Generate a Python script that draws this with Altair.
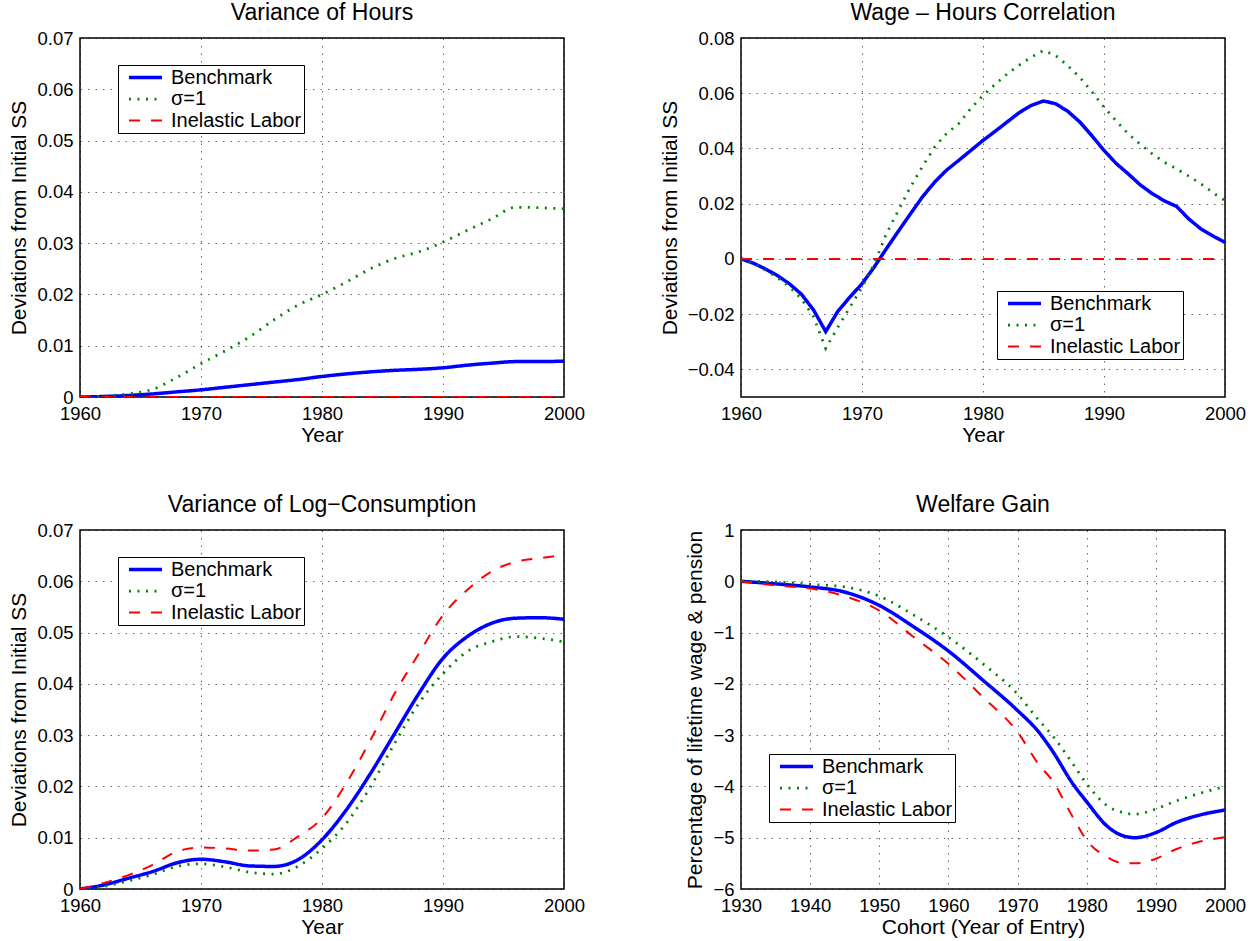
import altair as alt
import pandas as pd

SERIES = ["Benchmark", "σ=1", "Inelastic Labor"]
COLORS = ["#0000ff", "#008000", "#ff0000"]
DASHES = [[1, 0], [2, 6.5], [11, 11]]
WIDTHS = [3.5, 2, 3.5]
FONT = "Liberation Sans"

# ---- Panel 1: Variance of Hours ----
hours_years = [1960, 1962, 1964, 1966, 1968, 1970, 1972, 1974, 1976, 1978, 1980,
               1982, 1984, 1986, 1988, 1990, 1992, 1994, 1996, 1998, 2000]
hours_bench = [0.0, 0.0001, 0.0003, 0.0006, 0.001, 0.0014, 0.0019, 0.0024, 0.0029, 0.0034, 0.004,
               0.0045, 0.0049, 0.0052, 0.0054, 0.0057, 0.0062, 0.0066, 0.0069, 0.0069, 0.007]
hours_sigma = [0.0, 0.0002, 0.0006, 0.0015, 0.0038, 0.0065, 0.009, 0.0117, 0.015, 0.0179, 0.020,
               0.0224, 0.025, 0.027, 0.0283, 0.0302, 0.0325, 0.0347, 0.037, 0.0369, 0.0367]
hours_inel_years = [1960, 2000]
hours_inel = [0.0, 0.0]

# ---- Panel 2: Wage - Hours Correlation ----
corr_years = list(range(1960, 2001))
corr_bench = [0.0, -0.0015, -0.0036, -0.006, -0.009, -0.0128, -0.0185, -0.0263, -0.019, -0.0138,
              -0.009, -0.003, 0.0036, 0.010, 0.0163, 0.0225, 0.0278, 0.0322, 0.0357, 0.0393,
              0.0429, 0.0462, 0.0496, 0.053, 0.0556, 0.0572, 0.0562, 0.0535, 0.0496, 0.0446,
              0.0393, 0.0346, 0.0308, 0.0268, 0.0236, 0.021, 0.019, 0.0145, 0.0109, 0.0083, 0.006]
corr_sigma = [0.0, -0.0015, -0.004, -0.0068, -0.010, -0.0145, -0.021, -0.0324, -0.0248, -0.0175,
              -0.0103, -0.002, 0.009, 0.0175, 0.026, 0.0335, 0.0405, 0.0455, 0.049, 0.0545,
              0.0592, 0.0632, 0.067, 0.0702, 0.0731, 0.0755, 0.0737, 0.070, 0.0658, 0.0605,
              0.055, 0.050, 0.0453, 0.0415, 0.038, 0.035, 0.0326, 0.030, 0.0272, 0.024, 0.0211]
corr_inel_years = [1960, 2000]
corr_inel = [0.0, 0.0]

# ---- Panel 3: Variance of Log-Consumption ----
cons_years = [1960, 1962, 1964, 1966, 1968, 1970, 1972, 1974, 1976, 1978, 1980,
              1982, 1984, 1986, 1988, 1990, 1992, 1994, 1996, 1998, 2000]
cons_bench = [0.0, 0.0008, 0.0021, 0.0034, 0.0051, 0.0058, 0.0053, 0.0045, 0.0044, 0.0057, 0.0096,
              0.0154, 0.0225, 0.0303, 0.0381, 0.045, 0.0492, 0.0518, 0.0528, 0.0529, 0.0526]
cons_sigma = [0.0, 0.0005, 0.0016, 0.0028, 0.0044, 0.0049, 0.0043, 0.0033, 0.0029, 0.0044, 0.0079,
              0.0128, 0.0199, 0.0284, 0.0362, 0.042, 0.0463, 0.0482, 0.0492, 0.0489, 0.0482]
cons_inel = [0.0, 0.0012, 0.0027, 0.0047, 0.0073, 0.0081, 0.0079, 0.0075, 0.0077, 0.0102, 0.0138,
             0.0206, 0.029, 0.0381, 0.0459, 0.0534, 0.0583, 0.0619, 0.0638, 0.0645, 0.0651]

# ---- Panel 4: Welfare Gain ----
wel_years = [1930, 1935, 1940, 1945, 1950, 1955, 1960, 1965, 1970, 1973,
             1975, 1978, 1980, 1983, 1985, 1987, 1990, 1993, 1996, 2000]
wel_bench = [0.0, -0.05, -0.11, -0.21, -0.47, -0.89, -1.36, -1.93, -2.52, -2.93,
             -3.3, -3.95, -4.3, -4.78, -4.95, -5.0, -4.9, -4.7, -4.57, -4.46]
wel_sigma = [0.0, -0.01, -0.06, -0.11, -0.29, -0.66, -1.09, -1.61, -2.2, -2.7,
             -3.0, -3.56, -3.95, -4.38, -4.5, -4.54, -4.44, -4.28, -4.15, -4.0]
wel_inel = [0.0, -0.08, -0.14, -0.29, -0.57, -1.09, -1.61, -2.26, -2.94, -3.56,
            -3.88, -4.6, -5.05, -5.38, -5.49, -5.5, -5.41, -5.22, -5.09, -4.99]

# tick values
year_ticks = [1960, 1970, 1980, 1990, 2000]
cohort_ticks = [1930, 1940, 1950, 1960, 1970, 1980, 1990, 2000]
var_ticks = [0, 0.01, 0.02, 0.03, 0.04, 0.05, 0.06, 0.07]
corr_ticks = [-0.04, -0.02, 0, 0.02, 0.04, 0.06, 0.08]
wel_ticks = [1, 0, -1, -2, -3, -4, -5, -6]


def frame(parts):
    rows = []
    for name, xs, ys in parts:
        for x, y in zip(xs, ys):
            rows.append({"x": x, "y": y, "series": name})
    return pd.DataFrame(rows)


DEC_EXPR = "datum.value == 0 ? '0' : format(datum.value, '.2f')"


def panel(df, title, xdom, xvals, xtitle, ydom, yvals, ytitle, lx, ly, interp, yexpr=None):
    leg = alt.Legend(orient="none", legendX=lx, legendY=ly, title=None)
    yaxis_kw = dict(values=yvals, title=ytitle)
    if yexpr:
        yaxis_kw["labelExpr"] = yexpr
    else:
        yaxis_kw["format"] = "d"
    return alt.Chart(df).mark_line(interpolate=interp, clip=True).encode(
        x=alt.X("x:Q", scale=alt.Scale(domain=xdom, nice=False, zero=False),
                axis=alt.Axis(values=xvals, format="d", title=xtitle)),
        y=alt.Y("y:Q", scale=alt.Scale(domain=ydom, nice=False, zero=False),
                axis=alt.Axis(**yaxis_kw)),
        color=alt.Color("series:N", scale=alt.Scale(domain=SERIES, range=COLORS), legend=leg),
        strokeDash=alt.StrokeDash("series:N", scale=alt.Scale(domain=SERIES, range=DASHES), legend=leg),
        strokeWidth=alt.StrokeWidth("series:N", scale=alt.Scale(domain=SERIES, range=WIDTHS), legend=leg),
    ).properties(width=484, height=359, title=title)


p1 = panel(frame([(SERIES[0], hours_years, hours_bench), (SERIES[1], hours_years, hours_sigma),
                  (SERIES[2], hours_inel_years, hours_inel)]),
           "Variance of Hours", [1960, 2000], year_ticks, "Year",
           [0, 0.07], var_ticks, "Deviations from Initial SS", 38, 27, "monotone", DEC_EXPR)
p2 = panel(frame([(SERIES[0], corr_years, corr_bench), (SERIES[1], corr_years, corr_sigma),
                  (SERIES[2], corr_inel_years, corr_inel)]),
           "Wage \u2013 Hours Correlation", [1960, 2000], year_ticks, "Year",
           [-0.05, 0.08], corr_ticks, "Deviations from Initial SS", 256, 253, "linear", DEC_EXPR)
p3 = panel(frame([(SERIES[0], cons_years, cons_bench), (SERIES[1], cons_years, cons_sigma),
                  (SERIES[2], cons_years, cons_inel)]),
           "Variance of Log\u2212Consumption", [1960, 2000], year_ticks, "Year",
           [0, 0.07], var_ticks, "Deviations from Initial SS", 38, 27, "monotone", DEC_EXPR)
p4 = panel(frame([(SERIES[0], wel_years, wel_bench), (SERIES[1], wel_years, wel_sigma),
                  (SERIES[2], wel_years, wel_inel)]),
           "Welfare Gain", [1930, 2000], cohort_ticks, "Cohort (Year of Entry)",
           [-6, 1], wel_ticks, "Percentage of lifetime wage & pension", 28, 224, "monotone")

chart = alt.concat(p1, p2, p3, p4, columns=2, spacing={"row": 133, "column": 177},
                   bounds="flush").resolve_scale(
    color="independent", strokeDash="independent", strokeWidth="independent"
).properties(
    padding={"left": 8, "top": 1, "right": 5, "bottom": 0},
    background="white",
).configure_view(
    stroke="#000", strokeWidth=1.5
).configure_axis(
    labelFont=FONT, titleFont=FONT, labelFontSize=18.5, titleFontSize=21,
    labelColor="#000", titleColor="#000", titleFontWeight="normal",
    grid=True, gridColor="#000", gridOpacity=0.6, gridDash=[1.5, 6], gridWidth=1,
    domain=False, ticks=False, labelPadding=7, labelFlush=False, labelOverlap=False,
).configure_axisX(
    titlePadding=2
).configure_axisY(
    titlePadding=7
).configure_title(
    font=FONT, fontSize=23, fontWeight="normal", color="#000", offset=0
).configure_legend(
    labelFont=FONT, labelFontSize=20, labelColor="#000",
    symbolType="stroke", symbolSize=1089, strokeColor="#000", fillColor="#fff",
    padding=2, symbolOffset=7, labelOffset=7, rowPadding=0.5, clipHeight=21,
    cornerRadius=0,
)

chart.save("out.html", embed_options={"renderer": "svg", "actions": False})
